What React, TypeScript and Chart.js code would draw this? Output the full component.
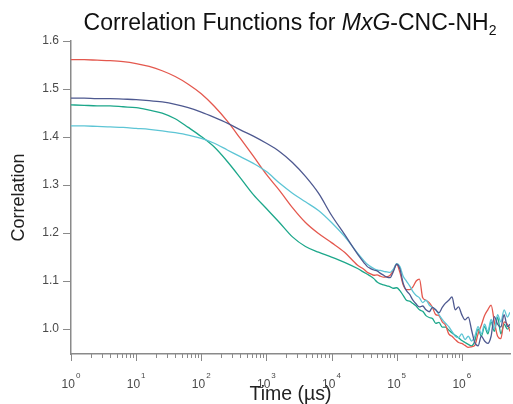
import React, { useEffect, useRef } from "react";
import { Chart, registerables } from "chart.js";

Chart.register(...registerables);

// Lag times (µs), log-spaced; finer spacing in the noisy long-time tail
const TIME_US = [
  1, 1.585, 2.512, 3.981, 6.31, 10, 15.85, 25.12, 39.81, 63.1, 100, 158.5, 251.2, 398.1, 631,
  1000, 1585, 2512, 3981, 6310, 10000, 15850, 25120,
  31620, 35480, 39810, 44670, 50120, 56230, 63100, 70790, 79430, 89130,
  100000, 112200, 125900, 141300, 158500, 177800, 199500, 223900, 251200, 281800,
  316200, 354800, 398100, 446700, 501200, 562300, 631000, 707900, 794300, 891300,
  1000000, 1122000, 1259000, 1413000, 1585000, 1778000, 1995000, 2239000, 2512000, 2818000,
  3162000, 3548000, 3981000, 4467000, 5012000, 5500000,
];

const SERIES_RED = [
  1.561, 1.561, 1.560, 1.559, 1.557, 1.553, 1.547, 1.538, 1.526, 1.510, 1.490, 1.464, 1.433, 1.397, 1.360,
  1.322, 1.289, 1.253, 1.222, 1.199, 1.180, 1.160, 1.133,
  1.124, 1.118, 1.115, 1.112, 1.113, 1.110, 1.108, 1.109, 1.112, 1.122,
  1.135, 1.118, 1.092, 1.082, 1.082, 1.088, 1.100, 1.104, 1.065, 1.060,
  1.055, 1.045, 1.030, 1.028, 1.015, 1.008, 0.990, 0.985, 0.978, 0.972,
  0.970, 0.966, 0.962, 0.963, 0.966, 0.990, 1.008, 1.028, 1.040, 1.050,
  1.015, 0.985, 0.980, 1.015, 1.010, 0.995,
];

const SERIES_SLATE = [
  1.481, 1.481, 1.480, 1.480, 1.479, 1.478, 1.476, 1.473, 1.468, 1.461, 1.452, 1.441, 1.429, 1.415, 1.402,
  1.387, 1.370, 1.347, 1.318, 1.283, 1.237, 1.197, 1.156,
  1.138, 1.130, 1.126, 1.123, 1.121, 1.116, 1.112, 1.108, 1.107, 1.120,
  1.135, 1.125, 1.095, 1.080, 1.072, 1.060, 1.052, 1.046, 1.048, 1.040,
  1.036, 1.045, 1.040, 1.034, 1.045, 1.054, 1.060, 1.067, 1.040, 1.046,
  1.030, 1.019, 1.025, 0.998, 0.972, 0.965, 0.985, 0.975, 0.970, 0.985,
  1.026, 1.010, 1.004, 1.030, 1.005, 1.010,
];

const SERIES_GREEN = [
  1.467, 1.466, 1.465, 1.465, 1.463, 1.461, 1.456, 1.450, 1.438, 1.420, 1.401, 1.379, 1.349, 1.315, 1.280,
  1.251, 1.222, 1.192, 1.172, 1.160, 1.150, 1.139, 1.126,
  1.118, 1.114, 1.110, 1.105, 1.098, 1.094, 1.092, 1.090, 1.088, 1.085,
  1.086, 1.080, 1.070, 1.060, 1.058, 1.053, 1.048, 1.040, 1.037, 1.028,
  1.024, 1.022, 1.012, 1.014, 1.004, 1.004, 0.998, 0.992, 0.987, 0.982,
  0.976, 0.972, 0.968, 0.965, 0.975, 1.000, 0.985, 1.005, 0.990, 1.015,
  0.995, 1.025, 0.990, 1.010, 1.000, 1.005,
];

const SERIES_CYAN = [
  1.423, 1.423, 1.422, 1.421, 1.420, 1.418, 1.416, 1.413, 1.409, 1.404, 1.397, 1.387, 1.373, 1.359, 1.345,
  1.328, 1.304, 1.283, 1.265, 1.247, 1.222, 1.193, 1.158,
  1.142, 1.135, 1.130, 1.126, 1.123, 1.122, 1.120, 1.119, 1.118, 1.125,
  1.136, 1.130, 1.110, 1.100, 1.090, 1.078, 1.070, 1.065, 1.055, 1.060,
  1.050, 1.045, 1.040, 1.030, 1.020, 1.012, 1.005, 0.995, 0.985, 0.982,
  0.990, 0.978, 0.985, 0.975, 0.985, 1.005, 0.990, 1.010, 0.995, 1.020,
  1.000, 1.030, 1.015, 1.040, 1.025, 1.035,
];

const Y_TICKS = [1.0, 1.1, 1.2, 1.3, 1.4, 1.5, 1.6];
const X_DECADES = [0, 1, 2, 3, 4, 5, 6];
const X_MINOR_MULTIPLES = [2, 3, 4, 5, 6, 7, 8, 9];

const FONT = "'Liberation Sans', Arial, Helvetica, sans-serif";
const AXIS_COLOR = "#8a8a8a";
const TICK_TEXT = "#4a4a4a";

const COLORS = {
  slate: "#4e5990",
  red: "#e4584e",
  green: "#1ca78a",
  cyan: "#5dc5d5",
};

// Draws log-axis tick marks (long at decades, short between), the
// 10^n labels with raised exponents, and the mixed-style title.
const decorPlugin = {
  id: "decor",
  afterDraw(chart: any) {
    const { ctx } = chart;
    const xs = chart.scales.x;
    const yAxis = xs.top;
    ctx.save();
    ctx.strokeStyle = AXIS_COLOR;
    ctx.lineWidth = 1;
    for (const t of xs.ticks) {
      const px = Math.round(xs.getPixelForValue(t.value)) + 0.5;
      const len = t.major ? 7 : 4;
      ctx.beginPath();
      ctx.moveTo(px, yAxis);
      ctx.lineTo(px, yAxis + len);
      ctx.stroke();
    }

    ctx.fillStyle = TICK_TEXT;
    ctx.textBaseline = "alphabetic";
    ctx.textAlign = "left";
    for (const e of X_DECADES) {
      const px = xs.getPixelForValue(Math.pow(10, e));
      ctx.font = `12px ${FONT}`;
      const wBase = ctx.measureText("10").width;
      ctx.font = `8px ${FONT}`;
      const wExp = ctx.measureText(String(e)).width;
      const start = px - (wBase + wExp + 1) / 2;
      ctx.font = `12px ${FONT}`;
      ctx.fillText("10", start, yAxis + 34);
      ctx.font = `8px ${FONT}`;
      ctx.fillText(String(e), start + wBase + 1, yAxis + 24);
    }

    // Title: Correlation Functions for MxG-CNC-NH2
    const runs = [
      { text: "Correlation Functions for ", font: `23px ${FONT}`, dy: 0 },
      { text: "MxG", font: `italic 23px ${FONT}`, dy: 0 },
      { text: "-CNC-NH", font: `23px ${FONT}`, dy: 0 },
      { text: "2", font: `14px ${FONT}`, dy: 5 },
    ];
    let total = 0;
    for (const r of runs) {
      ctx.font = r.font;
      total += ctx.measureText(r.text).width;
    }
    let cx = 290 - total / 2;
    ctx.fillStyle = "#111111";
    for (const r of runs) {
      ctx.font = r.font;
      ctx.fillText(r.text, cx, 30 + r.dy);
      cx += ctx.measureText(r.text).width;
    }
    ctx.restore();
  },
};

export default function App() {
  const canvasRef = useRef<HTMLCanvasElement | null>(null);

  useEffect(() => {
    const canvas = canvasRef.current;
    if (!canvas) return;

    const line = (label: string, data: number[], color: string) => ({
      label,
      data: TIME_US.map((t, i) => ({ x: t, y: data[i] })),
      borderColor: color,
      backgroundColor: color,
      borderWidth: 1.3,
      pointRadius: 0,
      cubicInterpolationMode: "monotone" as const,
      fill: false,
    });

    const chart = new Chart(canvas, {
      type: "line",
      data: {
        datasets: [
          line("Slate", SERIES_SLATE, COLORS.slate),
          line("Cyan", SERIES_CYAN, COLORS.cyan),
          line("Red", SERIES_RED, COLORS.red),
          line("Green", SERIES_GREEN, COLORS.green),
        ],
      },
      options: {
        responsive: false,
        animation: false,
        devicePixelRatio: 1,
        layout: { padding: { top: 41, right: 3, left: 0, bottom: 0 } },
        plugins: {
          legend: { display: false },
          tooltip: { enabled: false },
          title: { display: false },
        },
        scales: {
          x: {
            type: "logarithmic",
            min: 1,
            max: 5500000,
            afterBuildTicks: (scale: any) => {
              const ticks: { value: number; major: boolean }[] = [];
              for (const e of X_DECADES) {
                const base = Math.pow(10, e);
                ticks.push({ value: base, major: true });
                if (e < X_DECADES[X_DECADES.length - 1]) {
                  for (const m of X_MINOR_MULTIPLES) ticks.push({ value: m * base, major: false });
                }
              }
              scale.ticks = ticks;
            },
            afterFit: (scale: any) => {
              scale.height = 50;
            },
            ticks: { display: false },
            grid: { display: false },
            border: { display: true, color: AXIS_COLOR, width: 1.5 },
            title: {
              display: true,
              text: "Time (µs)",
              color: "#222222",
              font: { family: FONT, size: 19.5, lineHeight: 1.0 },
              padding: { top: 0, bottom: 0 },
            },
          },
          y: {
            type: "linear",
            min: 0.948,
            max: 1.6,
            afterBuildTicks: (scale: any) => {
              scale.ticks = Y_TICKS.map((v) => ({ value: v }));
            },
            afterFit: (scale: any) => {
              scale.width = 71;
            },
            ticks: {
              color: TICK_TEXT,
              font: { family: FONT, size: 12 },
              padding: 4,
              callback: (v: any) => Number(v).toFixed(1),
            },
            grid: {
              display: true,
              drawOnChartArea: false,
              drawTicks: true,
              tickLength: 8,
              color: AXIS_COLOR,
            },
            border: { display: true, color: AXIS_COLOR, width: 1.5 },
            title: {
              display: true,
              text: "Correlation",
              color: "#222222",
              font: { family: FONT, size: 18 },
              padding: { top: 8, bottom: 0 },
            },
          },
        },
      },
      plugins: [decorPlugin],
    });

    return () => chart.destroy();
  }, []);

  return (
    <div style={{ position: "fixed", left: 0, top: 0, width: 513, height: 404, background: "#ffffff" }}>
      <canvas ref={canvasRef} width={513} height={404} />
    </div>
  );
}
